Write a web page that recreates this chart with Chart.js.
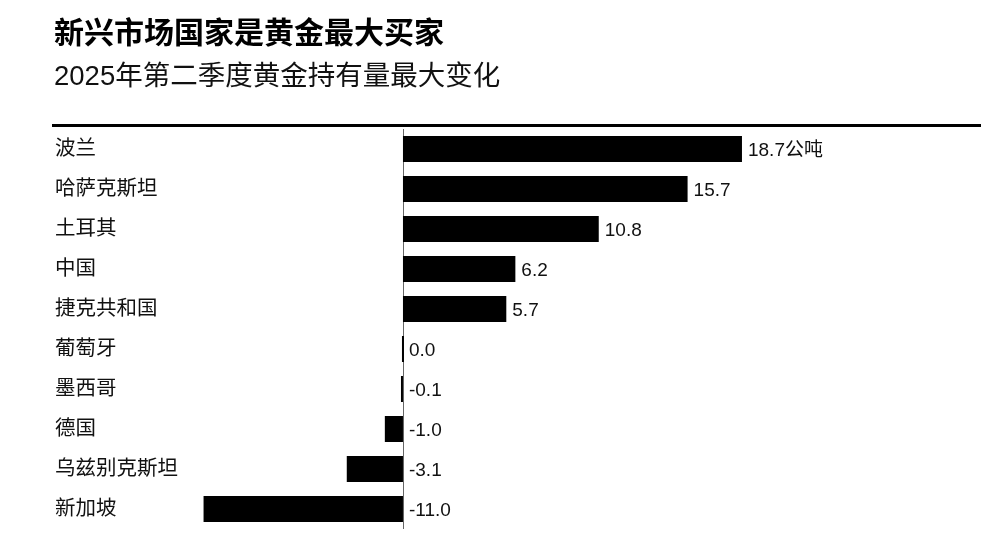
<!DOCTYPE html>
<html>
<head>
<meta charset="utf-8">
<script src="https://cdn.jsdelivr.net/npm/chart.js@4.4.1/dist/chart.umd.min.js"></script>
<style>
  body { margin: 0; background: #fff; }
  #wrap { position: relative; width: 1007px; height: 538px; }
  #title { position: absolute; left: 54px; top: 8px; font: bold 30px "Liberation Sans", "Noto Sans CJK SC", sans-serif; color: #000; }
  #subtitle { position: absolute; left: 54px; top: 53px; font: 27.5px "Liberation Sans", "Noto Sans CJK SC", sans-serif; color: #111; }
  canvas { position: absolute; left: 0; top: 0; }
</style>
</head>
<body>
<div id="wrap">
  <canvas id="gold-chart" width="1007" height="538"></canvas>
  <div id="title">新兴市场国家是黄金最大买家</div>
  <div id="subtitle">2025年第二季度黄金持有量最大变化</div>
</div>
<script>
// data
const categories = ['波兰', '哈萨克斯坦', '土耳其', '中国', '捷克共和国', '葡萄牙', '墨西哥', '德国', '乌兹别克斯坦', '新加坡'];
const changes = [18.7, 15.7, 10.8, 6.2, 5.7, 0.0, -0.1, -1.0, -3.1, -11.0];
const unit = '公吨';

const FONT = '"Liberation Sans", "Noto Sans CJK SC", sans-serif';

// rule, zero line, category names and value labels
const decor = {
    id: 'decor',
    beforeDatasetsDraw(chart) {
        const c = chart.ctx, x = chart.scales.x, a = chart.chartArea;
        const zx = Math.round(x.getPixelForValue(0)) + 0.5;
        c.save();
        c.strokeStyle = '#000';
        c.lineWidth = 3;
        c.beginPath();
        c.moveTo(52, a.top - 3.5);
        c.lineTo(981, a.top - 3.5);
        c.stroke();
        c.strokeStyle = '#666';
        c.lineWidth = 1;
        c.beginPath();
        c.moveTo(zx, a.top);
        c.lineTo(zx, a.bottom);
        c.stroke();
        c.restore();
    },
    afterDatasetsDraw(chart) {
        const c = chart.ctx, x = chart.scales.x, y = chart.scales.y;
        const zx = x.getPixelForValue(0);
        const bars = chart.getDatasetMeta(0).data;
        c.save();
        c.textBaseline = 'middle';
        c.textAlign = 'left';
        c.fillStyle = '#111';
        c.font = '20.5px ' + FONT;
        categories.forEach((name, i) => {
            c.fillText(name, 55, y.getPixelForValue(i));
        });
        c.font = '19px ' + FONT;
        bars.forEach((bar, i) => {
            const label = changes[i].toFixed(1) + (i === 0 ? unit : '');
            const lx = changes[i] > 0 ? bar.x + 6 : zx + 6;
            c.fillText(label, lx, bar.y + 2);
        });
        c.restore();
    }
};

new Chart(document.getElementById('gold-chart').getContext('2d'), {
    type: 'bar',
    data: {
        labels: categories,
        datasets: [{
            data: changes,
            backgroundColor: '#000',
            borderWidth: 0,
            minBarLength: 2,
            barPercentage: 0.65,
            categoryPercentage: 1.0
        }]
    },
    options: {
        indexAxis: 'y',
        responsive: false,
        animation: false,
        layout: { padding: { left: 52, right: 27, top: 129, bottom: 9 } },
        plugins: { legend: { display: false }, tooltip: { enabled: false } },
        scales: {
            x: { display: false, min: -19.36, max: 31.83 },
            y: { display: false }
        }
    },
    plugins: [decor]
});
</script>
</body>
</html>
